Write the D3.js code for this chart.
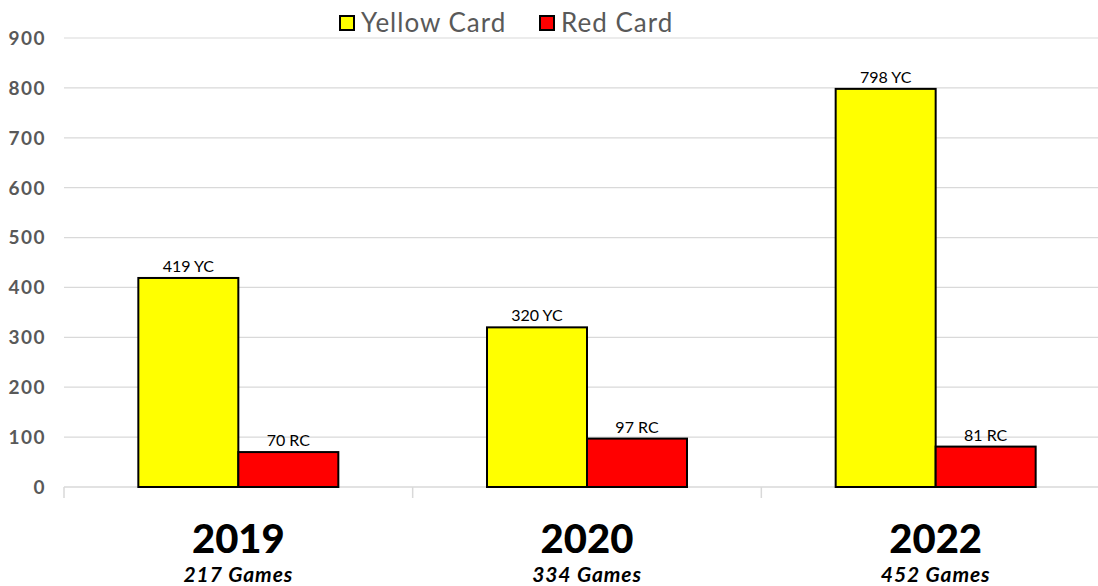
<!DOCTYPE html>
<html>
<head>
<meta charset="utf-8">
<script src="https://cdn.jsdelivr.net/npm/d3@7"></script>
<style>
  body { margin: 0; background: #fff; }
  svg { font-family: "Lato", "Open Sans", sans-serif; }
</style>
</head>
<body>
<div id="chart"></div>
<script>
// data
const seasons = ["2019", "2020", "2022"];
const games = ["217 Games", "334 Games", "452 Games"];
const yellowCards = [419, 320, 798];
const redCards = [70, 97, 81];
const yTicks = [0, 100, 200, 300, 400, 500, 600, 700, 800, 900];

const W = 1098, H = 586;
const margin = { top: 38, right: -12, bottom: 99, left: 64 };
const innerW = W - margin.left - margin.right;
const innerH = H - margin.top - margin.bottom;

const svg = d3.select("#chart").append("svg").attr("width", W).attr("height", H);
const g = svg.append("g").attr("transform", `translate(${margin.left},${margin.top})`);

const x = d3.scaleBand().domain(seasons).range([0, innerW]).paddingInner(0).paddingOuter(0);
const y = d3.scaleLinear().domain([0, 900]).range([innerH, 0]);
const barW = 100;

// gridlines
g.selectAll(".grid").data(yTicks.filter(d => d > 0)).enter().append("line")
  .attr("x1", 0).attr("x2", innerW)
  .attr("y1", d => y(d)).attr("y2", d => y(d))
  .attr("stroke", "#d9d9d9").attr("stroke-width", 1.2);

// y axis labels
g.selectAll(".ylab").data(yTicks).enter().append("text")
  .attr("x", -18).attr("y", d => y(d)).attr("dy", "0.36em")
  .attr("text-anchor", "end")
  .style("font-size", "19px").style("font-weight", "bold").style("fill", "#595959")
  .style("letter-spacing", "1.5px")
  .text(d => d);

// x baseline and category separators
g.append("line").attr("x1", 0).attr("x2", innerW).attr("y1", innerH).attr("y2", innerH)
  .attr("stroke", "#d9d9d9").attr("stroke-width", 1.5);
const bounds = seasons.map(s => x(s)).concat([innerW]);
g.selectAll(".sep").data(bounds).enter().append("line")
  .attr("x1", d => d).attr("x2", d => d).attr("y1", innerH).attr("y2", innerH + 11)
  .attr("stroke", "#d9d9d9").attr("stroke-width", 1.5);

const rows = seasons.map((s, i) => ({ s, yc: yellowCards[i], rc: redCards[i], games: games[i] }));

const grp = g.selectAll(".cat").data(rows).enter().append("g")
  .attr("transform", d => `translate(${x(d.s) + x.bandwidth() / 2},0)`);

grp.append("rect")
  .attr("x", -barW).attr("width", barW)
  .attr("y", d => y(d.yc)).attr("height", d => innerH - y(d.yc))
  .attr("fill", "#ffff00").attr("stroke", "#000").attr("stroke-width", 2);
grp.append("rect")
  .attr("x", 0).attr("width", barW)
  .attr("y", d => y(d.rc)).attr("height", d => innerH - y(d.rc))
  .attr("fill", "#ff0000").attr("stroke", "#000").attr("stroke-width", 2);

grp.append("text")
  .attr("x", -barW / 2).attr("y", d => y(d.yc) - 6)
  .attr("text-anchor", "middle").style("font-size", "16px").style("fill", "#000")
  .text(d => d.yc + " YC");
grp.append("text")
  .attr("x", barW / 2).attr("y", d => y(d.rc) - 6)
  .attr("text-anchor", "middle").style("font-size", "16px").style("fill", "#000")
  .text(d => d.rc + " RC");

grp.append("text")
  .attr("x", 0).attr("y", innerH + 66)
  .attr("text-anchor", "middle").style("font-size", "40px").style("font-weight", "900")
  .style("fill", "#000")
  .text(d => d.s);
grp.append("text")
  .attr("x", 0).attr("y", innerH + 95)
  .attr("text-anchor", "middle").style("font-size", "21px").style("font-weight", "bold")
  .style("font-style", "italic").style("fill", "#000").style("letter-spacing", "0.9px")
  .text(d => d.games);

// legend
const legend = svg.append("g");
const items = [
  { label: "Yellow Card", color: "#ffff00", x: 339 },
  { label: "Red Card", color: "#ff0000", x: 539 }
];
const li = legend.selectAll("g").data(items).enter().append("g")
  .attr("transform", d => `translate(${d.x},0)`);
li.append("rect").attr("x", 1).attr("y", 16).attr("width", 14).attr("height", 14)
  .attr("fill", d => d.color).attr("stroke", "#000").attr("stroke-width", 2);
li.append("text").attr("x", 22).attr("y", 32)
  .style("font-size", "26px").style("fill", "#595959").style("letter-spacing", "1px")
  .text(d => d.label);
</script>
</body>
</html>
